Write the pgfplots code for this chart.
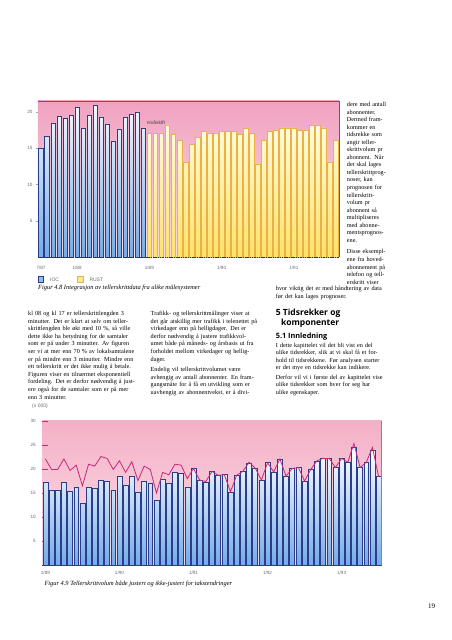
\documentclass[border=0pt]{standalone}
\usepackage{fontspec}
\setmainfont{Liberation Serif}
\newfontfamily\sansf{Liberation Sans}
\newfontfamily\headf{Open Sans}
\usepackage{pgfplots}
\pgfplotsset{compat=1.18}
\definecolor{pinkA}{RGB}{240,162,192}
\definecolor{pinkB}{RGB}{251,222,232}
\definecolor{pinkC}{RGB}{244,176,198}
\definecolor{pinkD}{RGB}{251,226,234}
\definecolor{blueTop}{RGB}{242,248,255}
\definecolor{blueBot}{RGB}{115,172,232}
\definecolor{blueEdge}{RGB}{45,60,135}
\definecolor{yelTop}{RGB}{255,252,218}
\definecolor{yelBot}{RGB}{255,226,105}
\definecolor{yelEdge}{RGB}{236,176,72}
\definecolor{frameP}{RGB}{150,60,140}
\definecolor{lineM}{RGB}{200,40,120}
\definecolor{tickgray}{RGB}{105,105,115}
\definecolor{shadow}{RGB}{150,125,150}
\newcommand\body{\fontsize{6.2}{7.6}\selectfont}
\newcommand\tickf{\sansf\fontsize{4.6}{5}\selectfont}
\begin{document}
\begin{tikzpicture}[x=1pt,y=1pt]
\path[fill=white] (0,0) rectangle (452,640);

% ---------- Figure 4.8 ----------
\begin{axis}[at={(41.01pt,383pt)}, anchor=origin, scale only axis,
  width=301pt, height=156pt,
  xmin=-0.5, xmax=49.5, ymin=0, ymax=21.5,
  axis background/.style={top color=pinkA, bottom color=pinkB},
  axis line style={draw=none},
  xtick={0,6,18,30,42}, xticklabels={7/87,1/88,1/89,1/90,1/91},
  ytick={5,10,15,20},
  xtick pos=bottom, ytick pos=left,
  tick align=outside, major tick length=2pt,
  xtick style={draw=none},
  ytick style={draw=gray!70, line width=0.4pt},
  ticklabel style={font=\tickf, text=tickgray},
  xticklabel style={yshift=-4pt},
  /pgf/number format/assume math mode=true,
  clip=false]
\addplot[ybar, bar width=0.76, draw=blueEdge, line width=0.5pt,
  top color=blueTop, bottom color=blueBot] coordinates {
(0,15.0)(1,16.6)(2,18.4)(3,19.4)(4,19.1)(5,19.5)(6,20.6)(7,17.7)(8,19.5)
(9,20.9)(10,19.2)(11,18.3)(12,15.9)(13,17.6)(14,19.2)(15,19.7)(16,20.0)(17,17.8)};
\addplot[ybar, bar width=0.76, draw=yelEdge, line width=0.5pt,
  top color=yelTop, bottom color=yelBot] coordinates {
(18,17.0)(19,17.0)(20,17.1)(21,18.2)(22,16.9)(23,16.1)(24,13.1)(25,15.5)
(26,16.5)(27,17.3)(28,17.1)(29,17.1)(30,17.3)(31,17.3)(32,17.3)(33,16.9)
(34,17.7)(35,17.1)(36,12.8)(37,16.1)(38,17.3)(39,17.5)(40,17.8)(41,17.8)
(42,17.8)(43,17.5)(44,17.5)(45,18.1)(46,18.2)(47,17.8)(48,13.1)(49,16.1)};
\draw[frameP, line width=0.7pt] (rel axis cs:0,1) -- (rel axis cs:1,1) -- (rel axis cs:1,0);
\draw[blueEdge!80!black, line width=0.6pt, dash pattern=on 1.5pt off 0.8pt] (rel axis cs:0,0) -- (rel axis cs:1,0);
\end{axis}
\node[anchor=west, inner sep=0, font=\sansf\fontsize{5}{6}\selectfont, text=black!75] at (146.7,517.7) {nivåskift};
% legend
\draw[blueEdge, line width=0.5pt, fill=blueBot!80] (38,357.8) rectangle (43.5,363.3);
\node[anchor=west, inner sep=0, font=\sansf\fontsize{5}{6}\selectfont, text=tickgray] at (50,360.5) {IOC};
\draw[yelEdge, line width=0.5pt, fill=yelBot!75] (77.5,357.8) rectangle (83,363.3);
\node[anchor=west, inner sep=0, font=\sansf\fontsize{5}{6}\selectfont, text=tickgray] at (89.3,360.5) {RUST};
\node[anchor=base west, inner sep=0, font=\itshape\fontsize{6.4}{7.6}\selectfont] at (38,350.8)
  {Figur 4.8 Integrasjon av tellerskrittdata fra ulike målesystemer};

% ---------- Figure 4.9 ----------
\begin{axis}[at={(45.39pt,75pt)}, anchor=origin, scale only axis,
  width=339.4pt, height=144pt,
  xmin=-0.5, xmax=54.5, ymin=0, ymax=30,
  axis background/.style={top color=pinkC, bottom color=pinkD},
  axis line style={draw=none},
  xtick={0,12,24,36,48}, xticklabels={1/89,1/90,1/91,1/92,1/93},
  ytick={5,10,15,20,25,30},
  xtick pos=bottom, ytick pos=left,
  tick align=inside, major tick length=6pt,
  xtick style={draw=none},
  ytick style={draw=lineM, line width=0.6pt},
  ticklabel style={font=\tickf, text=tickgray},
  yticklabel style={xshift=-3pt},
  xticklabel style={yshift=-3pt},
  /pgf/number format/assume math mode=true,
  clip=false]
\addplot[ybar, bar width=0.8, draw=blueEdge, line width=0.55pt,
  top color=white, bottom color=blueBot] coordinates {
(0,17.2)(1,15.6)(2,15.6)(3,17.2)(4,15.3)(5,16.2)(6,12.8)(7,16.2)(8,16.0)(9,17.6)
(10,17.4)(11,15.6)(12,18.5)(13,16.6)(14,18.5)(15,15.1)(16,17.4)(17,17.0)(18,13.5)
(19,17.8)(20,17.0)(21,19.4)(22,19.1)(23,16.25)(24,20.1)(25,17.6)(26,17.3)(27,19.5)
(28,18.7)(29,18.8)(30,15.2)(31,18.7)(32,19.5)(33,21.2)(34,20.1)(35,17.7)(36,21.3)
(37,19.4)(38,22.1)(39,18.5)(40,20.1)(41,20.3)(42,17.5)(43,19.9)(44,21.7)(45,22.2)
(46,22.2)(47,20.3)(48,22.2)(49,21.4)(50,24.5)(51,20.3)(52,21.4)(53,23.8)(54,18.4)};
\addplot[sharp plot, no marks, draw=lineM, line width=0.8pt] coordinates {
(0,22.1)(1,19.9)(2,19.9)(3,22.1)(4,19.7)(5,20.8)(6,16.5)(7,21.0)(8,20.6)(9,22.6)
(10,22.2)(11,19.9)(12,21.7)(13,19.3)(14,21.5)(15,17.6)(16,20.6)(17,19.9)(18,15.0)
(19,19.3)(20,18.8)(21,21.0)(22,20.8)(23,18.0)(24,20.1)(25,17.7)(26,17.4)(27,19.5)
(28,18.7)(29,18.8)(30,15.3)(31,18.7)(32,19.5)(33,21.4)(34,20.2)(35,17.7)(36,21.3)
(37,19.4)(38,22.1)(39,18.5)(40,20.1)(41,20.3)(42,17.5)(43,19.9)(44,21.7)(45,22.2)
(46,22.2)(47,20.3)(48,22.2)(49,21.4)(50,25.3)(51,20.3)(52,21.4)(53,24.5)(54,18.4)};
\draw[shadow, line width=1.2pt] (rel axis cs:1,1) -- (rel axis cs:1,0);
\draw[blueEdge, line width=0.8pt] (rel axis cs:0,0) -- (rel axis cs:1,0);
\end{axis}
\node[anchor=west, inner sep=0, font=\sansf\fontsize{5}{6}\selectfont, text=tickgray] at (32,234) {(x 000)};
\node[anchor=base west, inner sep=0, font=\itshape\fontsize{6.4}{7.6}\selectfont] at (44.3,54.2)
  {Figur 4.9 Tellerskrittvolum både justert og ikke-justert for takstendringer};

% ---------- body text ----------
\node[anchor=base west, inner sep=0, text width=150pt, align=left, font=\body] at (28,324.5) {%
kl 08 og kl 17 er tellerskrittlengden 3\\
minutter. Det er klart at selv om teller-\\
skrittlengden ble økt med 10 \%, så ville\\
dette ikke ha betydning for de samtaler\\
som er på under 3 minutter. Av figuren\\
ser vi at mer enn 70 \% av lokalsamtalene\\
er på mindre enn 3 minutter. Mindre enn\\
ett tellerskritt er det ikke mulig å betale.\\
Figuren viser en tilnærmet eksponentiell\\
fordeling. Det er derfor nødvendig å just-\\
ere også for de samtaler som er på mer\\
enn 3 minutter.};

\node[anchor=base west, inner sep=0, text width=150pt, align=left, font=\body] at (150.5,324.5) {%
Trafikk- og tellerskrittmålinger viser at\\
det går atskillig mer trafikk i telenettet på\\
virkedager enn på helligdager. Det er\\
derfor nødvendig å justere trafikkvol-\\
umet både på måneds- og årsbasis ut fra\\
forholdet mellom virkedager og hellig-\\
dager.\\[3pt]
Endelig vil tellerskrittvolumet være\\
avhengig av antall abonnenter. En fram-\\
gangsmåte for å få en utvikling som er\\
uavhengig av abonnentvekst, er å divi-};

\node[anchor=base west, inner sep=0, text width=80pt, align=left, font=\fontsize{6.2}{7.55}\selectfont] at (346.7,533.5) {%
dere med antall\\
abonnenter.\\
Dermed fram-\\
kommer en\\
tidsrekke som\\
angir teller-\\
skrittvolum pr\\
abonnent. Når\\
det skal lages\\
tellerskrittprog-\\
noser, kan\\
prognosen for\\
tellerskritt-\\
volum pr\\
abonnent så\\
multipliseres\\
med abonne-\\
mentsprognos-\\
ene.\\[4pt]
Disse eksempl-\\
ene fra hoved-\\
abonnement på\\
telefon og tell-\\
erskritt viser};

\node[anchor=base west, inner sep=0, text width=150pt, align=left, font=\body] at (275.7,349.2) {%
hvor viktig det er med håndtering av data\\
før det kan lages prognoser.};

\node[anchor=base west, inner sep=0, font=\headf\bfseries\fontsize{8.5}{10}\selectfont] at (275.7,324.5) {5 Tidsrekker og};
\node[anchor=base west, inner sep=0, font=\headf\bfseries\fontsize{8.5}{10}\selectfont] at (281,314.4) {komponenter};
\node[anchor=base west, inner sep=0, font=\headf\bfseries\fontsize{7.3}{9}\selectfont] at (275.7,301.7) {5.1 Innledning};

\node[anchor=base west, inner sep=0, text width=150pt, align=left, font=\fontsize{6.2}{7.35}\selectfont] at (275.7,292.5) {%
I dette kapittelet vil det bli vist en del\\
ulike tidsrekker, slik at vi skal få et for-\\
hold til tidsrekkene. Før analysen starter\\
er det mye en tidsrekke kan indikere.\\[2.7pt]
Derfor vil vi i første del av kapittelet vise\\
ulike tidsrekker som hver for seg har\\
ulike egenskaper.};

\node[anchor=base west, inner sep=0, font=\fontsize{7}{8}\selectfont] at (428,31.5) {19};
\end{tikzpicture}
\end{document}
